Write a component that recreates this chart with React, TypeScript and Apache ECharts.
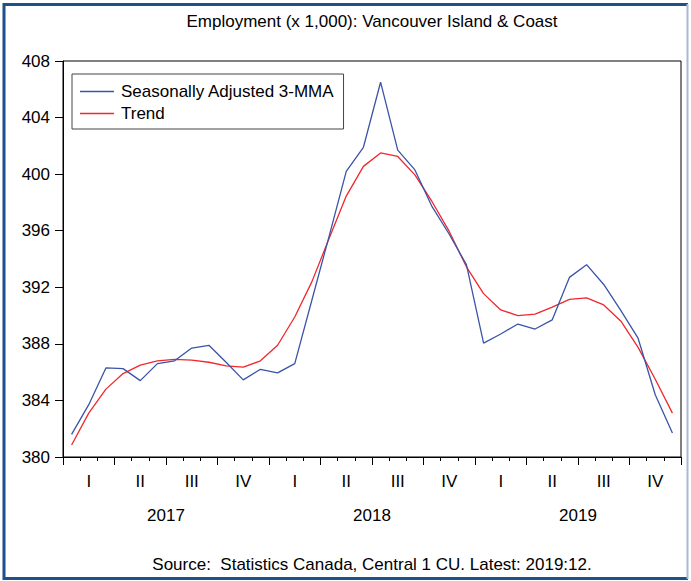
import React, { useEffect, useRef } from 'react';
import * as echarts from 'echarts';

const years = ['2017', '2018', '2019'];
const quarterNames = ['I', 'II', 'III', 'IV'];
const monthNums = ['01', '02', '03', '04', '05', '06', '07', '08', '09', '10', '11', '12'];
const months = years.flatMap((y) => monthNums.map((m) => `${y}:${m}`));
const quarterCategories = years.flatMap((y) => quarterNames.map((q) => `${y} ${q}`));
const yTicks = { min: 380, max: 408, interval: 4 };

const seasonallyAdjusted = [
  381.6, 383.7, 386.3, 386.25, 385.4, 386.6, 386.8, 387.7, 387.9, 386.7, 385.45, 386.2,
  385.95, 386.6, 391.1, 395.6, 400.2, 401.9, 406.5, 401.7, 400.3, 397.7, 395.75, 393.6,
  388.05, 388.7, 389.4, 389.05, 389.7, 392.7, 393.6, 392.2, 390.35, 388.4, 384.4, 381.7,
];
const trend = [
  380.85, 383.1, 384.8, 385.9, 386.5, 386.8, 386.9, 386.85, 386.7, 386.45, 386.35, 386.8,
  387.9, 389.9, 392.4, 395.45, 398.45, 400.55, 401.5, 401.25, 399.95, 398.05, 395.95, 393.45,
  391.55, 390.4, 390.0, 390.1, 390.6, 391.15, 391.25, 390.75, 389.6, 387.75, 385.5, 383.1,
];

const titleText = 'Employment (x 1,000): Vancouver Island & Coast';
const sourceText = 'Source:  Statistics Canada, Central 1 CU. Latest: 2019:12.';
const seriesNames = ['Seasonally Adjusted 3-MMA', 'Trend'];

const FONT = '"Liberation Sans", Arial, Helvetica, sans-serif';

export default function App() {
  const ref = useRef<HTMLDivElement>(null);
  useEffect(() => {
    if (!ref.current) return;
    const chart = echarts.init(ref.current, undefined, { renderer: 'svg' });
    chart.setOption({
      animation: false,
      backgroundColor: '#fff',
      textStyle: { fontFamily: FONT },
      grid: {
        left: 63,
        right: 10,
        top: 61,
        bottom: 124,
        show: true,
        borderColor: '#000',
        borderWidth: 1,
        backgroundColor: 'transparent',
      },
      legend: {
        orient: 'vertical',
        left: 72,
        top: 74,
        padding: [9, 9, 7, 8],
        itemWidth: 34,
        itemHeight: 14,
        itemGap: 5,
        icon: 'path://M0,0H34V1.3H0Z',
        borderColor: '#444',
        borderWidth: 1,
        backgroundColor: '#fff',
        textStyle: { fontSize: 17, color: '#000', fontFamily: FONT, padding: [0, 0, 0, 2] },
        data: seriesNames,
      },
      xAxis: [
        {
          type: 'category',
          data: months,
          position: 'bottom',
          boundaryGap: true,
          axisLine: { show: true, onZero: false, lineStyle: { color: '#000', width: 1 } },
          axisTick: { show: true, interval: 0, length: 4, lineStyle: { color: '#000' } },
          axisLabel: { show: false },
          splitLine: { show: false },
        },
        {
          type: 'category',
          data: quarterCategories,
          position: 'bottom',
          boundaryGap: true,
          axisLine: { show: false, onZero: false },
          axisTick: { show: true, interval: 0, length: 8, lineStyle: { color: '#000' } },
          axisLabel: {
            show: true,
            interval: 0,
            margin: 16,
            fontSize: 17,
            color: '#000',
            fontFamily: FONT,
            formatter: (v: string) => v.split(' ')[1],
          },
          splitLine: { show: false },
        },
        {
          type: 'category',
          data: years,
          position: 'bottom',
          boundaryGap: true,
          axisLine: { show: false, onZero: false },
          axisTick: { show: false },
          axisLabel: { show: true, interval: 0, margin: 50, fontSize: 17, color: '#000', fontFamily: FONT },
          splitLine: { show: false },
        },
      ],
      yAxis: {
        type: 'value',
        min: yTicks.min,
        max: yTicks.max,
        interval: yTicks.interval,
        axisLine: { show: true, lineStyle: { color: '#000', width: 1 } },
        axisTick: { show: true, length: 8, lineStyle: { color: '#000' } },
        axisLabel: { margin: 13, fontSize: 17, color: '#000', fontFamily: FONT },
        splitLine: { show: false },
      },
      series: [
        {
          name: seriesNames[0],
          type: 'line',
          xAxisIndex: 0,
          data: seasonallyAdjusted,
          symbol: 'none',
          color: '#3a54a8',
          lineStyle: { color: '#3a54a8', width: 1.3 },
          z: 3,
        },
        {
          name: seriesNames[1],
          type: 'line',
          xAxisIndex: 0,
          data: trend,
          symbol: 'none',
          color: '#f0282d',
          lineStyle: { color: '#f0282d', width: 1.3 },
          z: 2,
        },
      ],
      graphic: [
        {
          type: 'text',
          x: 372,
          y: 21,
          style: { text: titleText, fontSize: 17, fontFamily: FONT, fill: '#000', align: 'center', verticalAlign: 'middle' },
        },
        {
          type: 'text',
          x: 372,
          y: 564,
          style: { text: sourceText, fontSize: 17, fontFamily: FONT, fill: '#000', align: 'center', verticalAlign: 'middle' },
        },
        { type: 'line', shape: { x1: 4, y1: 3, x2: 4, y2: 580 }, style: { stroke: '#1f4f8d', lineWidth: 3 } },
        { type: 'line', shape: { x1: 3, y1: 4.5, x2: 688, y2: 4.5 }, style: { stroke: '#1f4f8d', lineWidth: 3 } },
        { type: 'line', shape: { x1: 3, y1: 578.5, x2: 688, y2: 578.5 }, style: { stroke: '#1f4f8d', lineWidth: 3 } },
        { type: 'line', shape: { x1: 687.5, y1: 4, x2: 687.5, y2: 579 }, style: { stroke: '#a9b8d6', lineWidth: 2 } },
      ],
    });
    return () => chart.dispose();
  }, []);
  return (
    <div
      ref={ref}
      style={{ position: 'fixed', left: 0, top: 0, width: 691, height: 581, background: '#fff' }}
    />
  );
}
